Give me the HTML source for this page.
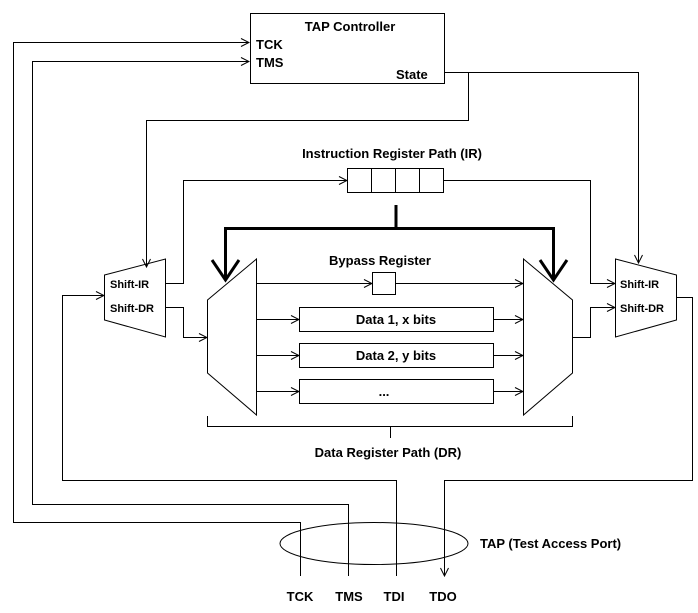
<!DOCTYPE html>
<html><head><style>body{margin:0;background:#fff}svg{display:block}text{font-family:"Liberation Sans",sans-serif;font-weight:bold;font-size:13px;fill:#000}</style></head><body>
<svg width="698" height="613" viewBox="0 0 698 613" xmlns="http://www.w3.org/2000/svg">
<defs><marker id="a" markerWidth="10" markerHeight="10" refX="9" refY="5" orient="auto" markerUnits="userSpaceOnUse"><path d="M1,1 L9,5 L1,9" fill="none" stroke="#000" stroke-width="1"/></marker></defs>
<g fill="none" stroke="#000" stroke-width="1">
<rect x="250.5" y="13.5" width="194" height="70"/>
<polyline points="13.5,522 13.5,42.5 249,42.5" marker-end="url(#a)"/>
<polyline points="300.5,576 300.5,522.5 13,522.5"/>
<polyline points="32.5,504 32.5,61.5 249,61.5" marker-end="url(#a)"/>
<polyline points="348.5,576 348.5,504.5 32,504.5"/>
<polyline points="396.5,576 396.5,480.5 62.5,480.5 62.5,295.5 104,295.5" marker-end="url(#a)"/>
<polyline points="676,297.5 692.5,297.5 692.5,480.5 444.5,480.5 444.5,576" marker-end="url(#a)"/>
<polyline points="445,72.5 638.5,72.5 638.5,263" marker-end="url(#a)"/>
<polyline points="468.5,72 468.5,120.5 146.5,120.5 146.5,267" marker-end="url(#a)"/>
<rect x="347.5" y="168.5" width="96" height="24"/>
<line x1="371.5" y1="168" x2="371.5" y2="192"/><line x1="395.5" y1="168" x2="395.5" y2="192"/><line x1="419.5" y1="168" x2="419.5" y2="192"/>
<polyline points="165,283.5 183.5,283.5 183.5,180.5 347,180.5" marker-end="url(#a)"/>
<polyline points="444,180.5 590.5,180.5 590.5,283.5 615,283.5" marker-end="url(#a)"/>
<polygon points="104.5,275 165.5,259 165.5,337 104.5,320"/>
<polygon points="615.5,259 676.5,275 676.5,320 615.5,337"/>
<polygon points="207.5,300 256.5,259 256.5,415 207.5,373"/>
<polygon points="523.5,259 572.5,300 572.5,373 523.5,415"/>
<polyline points="165,307.5 183.5,307.5 183.5,337.5 207,337.5" marker-end="url(#a)"/>
<polyline points="572,337.5 590.5,337.5 590.5,307.5 615,307.5" marker-end="url(#a)"/>
<rect x="372.5" y="272.5" width="23" height="22"/>
<line x1="256" y1="283.5" x2="372" y2="283.5" marker-end="url(#a)"/>
<line x1="396" y1="283.5" x2="523" y2="283.5" marker-end="url(#a)"/>
<rect x="299.5" y="307.5" width="194" height="24"/>
<rect x="299.5" y="343.5" width="194" height="24"/>
<rect x="299.5" y="379.5" width="194" height="24"/>
<line x1="256" y1="319.5" x2="299" y2="319.5" marker-end="url(#a)"/>
<line x1="256" y1="355.5" x2="299" y2="355.5" marker-end="url(#a)"/>
<line x1="256" y1="391.5" x2="299" y2="391.5" marker-end="url(#a)"/>
<line x1="494" y1="319.5" x2="523" y2="319.5" marker-end="url(#a)"/>
<line x1="494" y1="355.5" x2="523" y2="355.5" marker-end="url(#a)"/>
<line x1="494" y1="391.5" x2="523" y2="391.5" marker-end="url(#a)"/>
<polyline points="207.5,416 207.5,426.5 572.5,426.5 572.5,416"/>
<line x1="390.5" y1="426" x2="390.5" y2="438"/>
<ellipse cx="374" cy="543.5" rx="94" ry="21"/>
</g>
<g fill="none" stroke="#000" stroke-width="3">
<polyline points="396,205 396,228.5 225.5,228.5 225.5,280"/>
<polyline points="396,228.5 553.5,228.5 553.5,280"/>
<polyline points="212,260 225.5,280 239,260"/>
<polyline points="540,260 553.5,280 567,260"/>
</g>
<text x="350" y="31" text-anchor="middle">TAP Controller</text>
<text x="256" y="49">TCK</text>
<text x="256" y="67">TMS</text>
<text x="396" y="79">State</text>
<text x="392" y="158" text-anchor="middle">Instruction Register Path (IR)</text>
<text x="380" y="265" text-anchor="middle">Bypass Register</text>
<text x="110" y="288" style="font-size:11px">Shift-IR</text>
<text x="110" y="312" style="font-size:11px">Shift-DR</text>
<text x="620" y="288" style="font-size:11px">Shift-IR</text>
<text x="620" y="312" style="font-size:11px">Shift-DR</text>
<text x="396" y="324" text-anchor="middle">Data 1, x bits</text>
<text x="396" y="360" text-anchor="middle">Data 2, y bits</text>
<text x="384" y="396" text-anchor="middle">...</text>
<text x="388" y="457" text-anchor="middle">Data Register Path (DR)</text>
<text x="480" y="548">TAP (Test Access Port)</text>
<text x="300" y="601" text-anchor="middle">TCK</text>
<text x="349" y="601" text-anchor="middle">TMS</text>
<text x="394" y="601" text-anchor="middle">TDI</text>
<text x="443" y="601" text-anchor="middle">TDO</text>
</svg>
</body></html>
